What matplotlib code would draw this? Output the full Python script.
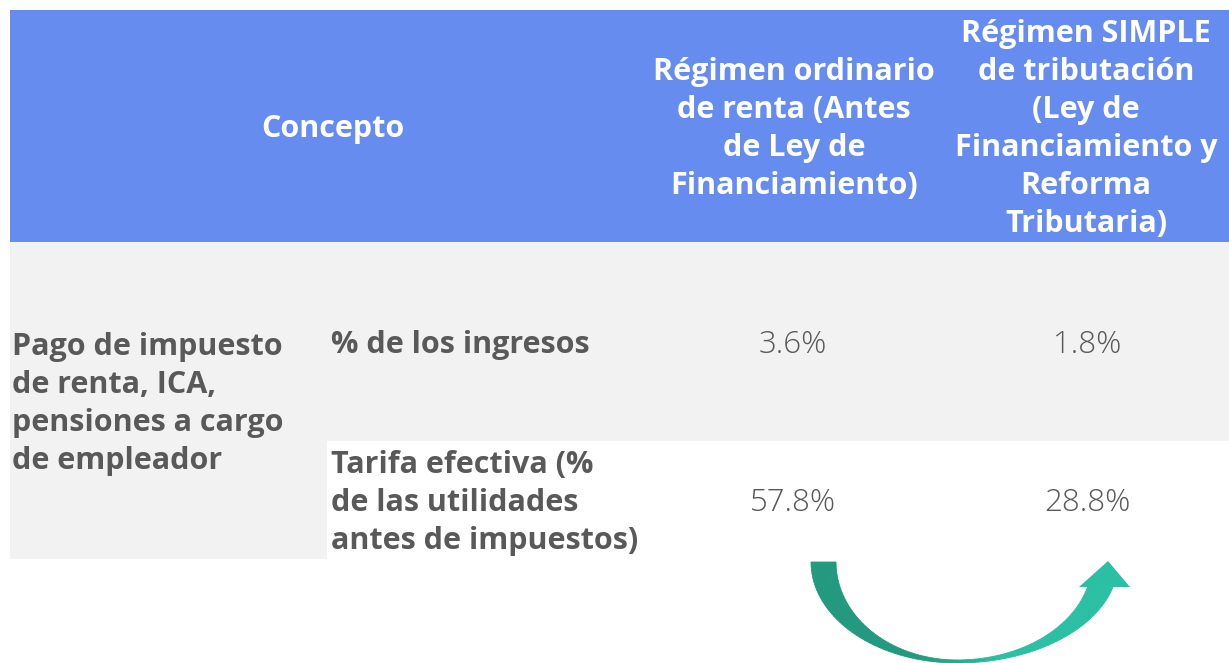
import numpy as np
import matplotlib
matplotlib.use("Agg")
import matplotlib.pyplot as plt
from matplotlib.patches import Rectangle, Polygon
from matplotlib.colors import to_rgb

# --- table content ---
header_concept = "Concepto"
header_regimes = [
    "Régimen ordinario\nde renta (Antes\nde Ley de\nFinanciamiento)",
    "Régimen SIMPLE\nde tributación\n(Ley de\nFinanciamiento y\nReforma\nTributaria)",
]
row_group = "Pago de impuesto\nde renta, ICA,\npensiones a cargo\nde empleador"
row_labels = ["% de los ingresos", "Tarifa efectiva (%\nde las utilidades\nantes de impuestos)"]
values_ordinario = ["3.6%", "57.8%"]
values_simple = ["1.8%", "28.8%"]

BLUE = "#678cf0"
GRAY = "#f2f2f2"
TXT = "#595959"
FONT = "Open Sans"

fig = plt.figure(figsize=(12.29, 6.63), dpi=100)
ax = fig.add_axes([0, 0, 1, 1])
ax.set_xlim(0, 1229)
ax.set_ylim(663, 0)
ax.axis("off")

# cell backgrounds
ax.add_patch(Rectangle((10, 10), 1219, 232, color=BLUE, lw=0))
ax.add_patch(Rectangle((10, 242), 1219, 199, color=GRAY, lw=0))
ax.add_patch(Rectangle((10, 441), 317, 118, color=GRAY, lw=0))

fs = 22
ls = 1.35
ax.text(333, 129, header_concept, ha="center", va="center", color="white",
        fontsize=fs, fontweight="bold", family=FONT)
for xc, txt in zip([794, 1086], header_regimes):
    ax.text(xc, 129, txt, ha="center", va="center", color="white", fontsize=fs,
            fontweight="bold", family=FONT, linespacing=ls, multialignment="center")

ax.text(12, 404, row_group, ha="left", va="center", color=TXT, fontsize=fs,
        fontweight="bold", family=FONT, linespacing=ls)
row_y = [345, 503]
for y, lab, v1, v2 in zip(row_y, row_labels, values_ordinario, values_simple):
    ax.text(331, y, lab, ha="left", va="center", color=TXT, fontsize=fs,
            fontweight="bold", family=FONT, linespacing=ls)
    ax.text(793, y, v1, ha="center", va="center", color=TXT, fontsize=22.5,
            fontweight=300, family=FONT)
    ax.text(1087, y, v2, ha="center", va="center", color=TXT, fontsize=22.5,
            fontweight=300, family=FONT)

# --- curved arrow (gradient teal) ---
cx, cy = 957, 562
dark, light = np.array(to_rgb("#23997f")), np.array(to_rgb("#2bbfa3"))
t_left = np.linspace(np.pi, np.pi / 2, 40)
t_right_end = np.arcsin(25 / 100)
t_right = np.linspace(np.pi / 2, t_right_end, 40)

def seg_color(x):
    f = np.clip((x - 920) / 80, 0, 1)
    return dark * (1 - f) + light * f

def draw_band(ts, ro, ri):
    for a, b in zip(ts[:-1], ts[1:]):
        pts = [
            (cx + ro[0] * np.cos(a), cy + ro[1] * np.sin(a)),
            (cx + ro[0] * np.cos(b), cy + ro[1] * np.sin(b)),
            (cx + ri[0] * np.cos(b), cy + ri[1] * np.sin(b)),
            (cx + ri[0] * np.cos(a), cy + ri[1] * np.sin(a)),
        ]
        xm = np.mean([p[0] for p in pts])
        ax.add_patch(Polygon(pts, closed=True, color=seg_color(xm), lw=0.6,
                             ec=seg_color(xm)))

draw_band(t_left, (146, 101), (121, 98))
draw_band(t_right, (161, 101), (135, 98))
ax.add_patch(Polygon([(1079, 587), (1130, 587), (1108, 561)], closed=True,
                     color=light, lw=0))

fig.savefig("out.png", dpi=100)
